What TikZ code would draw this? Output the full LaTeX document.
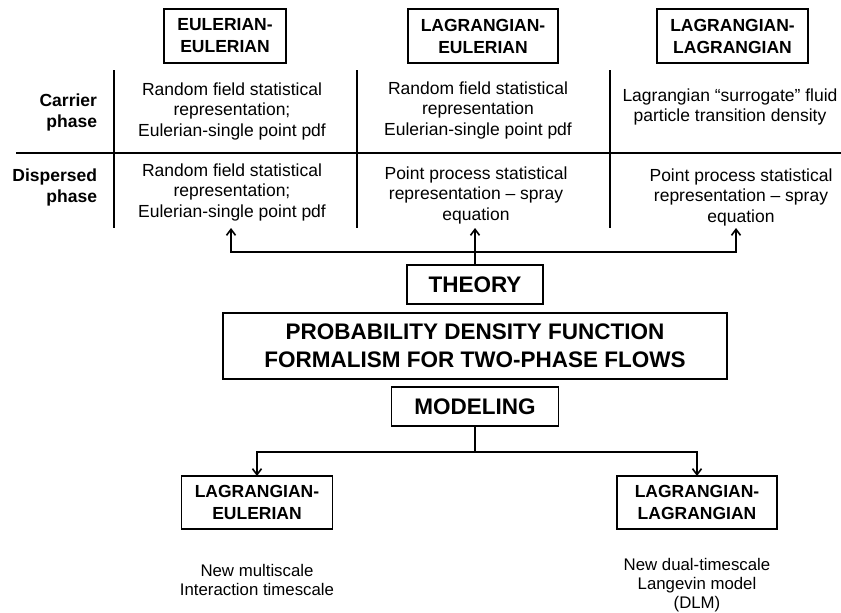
\documentclass[tikz,border=0pt]{standalone}
\usepackage{fontspec}
\setmainfont{Liberation Sans}
\usetikzlibrary{arrows.meta}
\begin{document}
\begin{tikzpicture}[x=1pt,y=-1pt,
  every node/.style={inner sep=0pt,outer sep=0pt},
  hbox/.style={draw,line width=1.8pt,align=center,font=\bfseries\fontsize{17.5}{22}\selectfont},
  bigbox/.style={draw,line width=1.8pt,align=center,font=\bfseries\fontsize{22.5}{28}\selectfont},
  celltext/.style={align=center,font=\fontsize{17.5}{20.5}\selectfont},
  rowlab/.style={align=right,anchor=east,font=\bfseries\fontsize{17.5}{21}\selectfont},
  note/.style={align=center,font=\fontsize{16.8}{19}\selectfont},
  ln/.style={line width=1.8pt},
  arr/.style={line width=1.8pt,-{Straight Barb[length=6pt,width=9pt,line width=1.6pt]}}
]
\useasboundingbox (0,0) rectangle (841,613);
% top headers
\node[hbox,minimum width=122pt,minimum height=54pt] (ee) at (225,36) {EULERIAN-\\EULERIAN};
\node[hbox,minimum width=150pt,minimum height=54pt] (le) at (483,36) {LAGRANGIAN-\\EULERIAN};
\node[hbox,minimum width=151pt,minimum height=54pt] (ll) at (732.5,36) {LAGRANGIAN-\\LAGRANGIAN};
% grid
\coordinate (v1t) at (114,70); \coordinate (v1b) at (114,228);
\coordinate (v2t) at (357,70); \coordinate (v2b) at (357,228);
\coordinate (v3t) at (610,70); \coordinate (v3b) at (610,228);
\coordinate (hl) at (16,153); \coordinate (hr) at (841,153);
\draw[ln] (v1t) -- (v1b);
\draw[ln] (v2t) -- (v2b);
\draw[ln] (v3t) -- (v3b);
\draw[ln] (hl) -- (hr);
% row labels
\node[rowlab] (carrier) at (97,112.5) {Carrier\\phase};
\node[rowlab] (dispersed) at (97,187) {Dispersed\\phase};
% cells
\node[celltext] (c11) at (232,111) {Random field statistical\\representation;\\Eulerian-single point pdf};
\node[celltext] (c12) at (478,110) {Random field statistical\\representation\\Eulerian-single point pdf};
\node[celltext] (c13) at (730,107) {Lagrangian “surrogate” fluid\\particle transition density};
\node[celltext] (c21) at (232,192) {Random field statistical\\representation;\\Eulerian-single point pdf};
\node[celltext] (c22) at (476,195) {Point process statistical\\representation – spray\\equation};
\node[celltext] (c23) at (741,197) {Point process statistical\\representation – spray\\equation};
% central boxes
\node[bigbox,minimum width=136pt,minimum height=39pt] (theory) at (475,284.5) {THEORY};
\node[bigbox,minimum width=504pt,minimum height=66pt] (pdf) at (475,346) {PROBABILITY DENSITY FUNCTION\\FORMALISM FOR TWO-PHASE FLOWS};
\node[bigbox,minimum width=167pt,minimum height=39pt] (modeling) at (475,406.5) {MODELING};
% theory arrows
\coordinate (tj) at (475,252);
\coordinate (tl) at (231,228);
\coordinate (tm) at (475,228);
\coordinate (tr) at (736,228);
\draw[arr] (tj) -| (tl);
\draw[arr] (tj) -| (tr);
\draw[arr] (theory.north) -- (tm);
% bottom boxes
\node[hbox,minimum width=151pt,minimum height=53pt] (mle) at (257,502.5) {LAGRANGIAN-\\EULERIAN};
\node[hbox,minimum width=160pt,minimum height=53pt] (mll) at (697,502.5) {LAGRANGIAN-\\LAGRANGIAN};
\coordinate (mj) at (475,452);
\draw[ln] (modeling.south) -- (mj);
\draw[arr] (mj) -| (mle.north);
\draw[arr] (mj) -| (mll.north);
% notes
\node[note] (n1) at (257,580) {New multiscale\\Interaction timescale};
\node[note] (n2) at (697,585) {New dual-timescale\\Langevin model\\(DLM)};
\end{tikzpicture}
\end{document}
